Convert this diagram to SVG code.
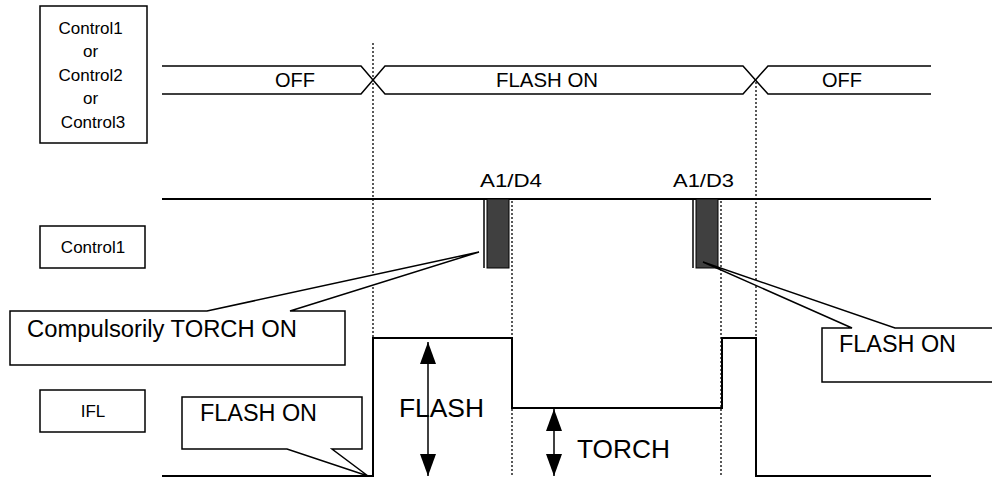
<svg xmlns="http://www.w3.org/2000/svg" width="992" height="479" viewBox="0 0 992 479">
<defs>
<style>
text{font-family:"Liberation Sans",Arial,sans-serif;fill:#000}
.box{fill:#fff;stroke:#000;stroke-width:1.5}
.bus{fill:none;stroke:#000;stroke-width:1.5}
.sig{fill:none;stroke:#000;stroke-width:2}
.dot{fill:none;stroke:#000;stroke-width:1.3;stroke-dasharray:2,2}
.pulse{fill:#404040;stroke:#000;stroke-width:1}
.arr{stroke:#000;stroke-width:1.5}
</style>
<marker id="ah" viewBox="0 0 22 16" refX="22" refY="8" markerWidth="22" markerHeight="16" markerUnits="userSpaceOnUse" orient="auto-start-reverse">
<path d="M0,0 L22,8 L0,16 Z" fill="#000"/>
</marker>
</defs>
<rect width="992" height="479" fill="#fff"/>

<g id="connectors">
<line class="dot" x1="373" y1="43" x2="373" y2="338"/>
<line class="dot" x1="756" y1="82" x2="756" y2="338"/>
<line class="dot" x1="512" y1="201" x2="512" y2="476"/>
<line class="dot" x1="721" y1="201" x2="721" y2="476"/>
<path class="bus" d="M162,66 H361 L385,94 H743 L768,66 H931"/>
<path class="bus" d="M162,94 H361 L385,66 H743 L768,94 H931"/>
<line class="sig" x1="162" y1="199" x2="931" y2="199"/>
<path class="sig" d="M162,476 H373 V338 H512 V408 H722 V338 H756 V476 H931"/>
<line class="arr" x1="428" y1="342" x2="428" y2="476" marker-start="url(#ah)" marker-end="url(#ah)"/>
<line class="arr" x1="554" y1="409" x2="554" y2="476" marker-start="url(#ah)" marker-end="url(#ah)"/>
</g>

<g id="bus-labels">
<text x="295" y="87" font-size="20" text-anchor="middle">OFF</text>
<text x="547" y="87" font-size="20" text-anchor="middle" textLength="102" lengthAdjust="spacingAndGlyphs">FLASH ON</text>
<text x="842" y="87" font-size="20" text-anchor="middle">OFF</text>
</g>

<g id="label-ctrl123">
<rect class="box" x="40" y="6" width="107" height="137"/>
<text font-size="17" text-anchor="middle">
<tspan x="93" y="34">Control1</tspan>
<tspan x="93" y="57">or</tspan>
<tspan x="93" y="81">Control2</tspan>
<tspan x="93" y="104">or</tspan>
<tspan x="93" y="128">Control3</tspan>
</text>
</g>

<g id="label-ctrl1">
<rect class="box" x="40" y="226" width="105" height="42"/>
<text x="93" y="253" font-size="17" text-anchor="middle">Control1</text>
</g>

<g id="label-ifl">
<rect class="box" x="40" y="390" width="105" height="42"/>
<text x="93" y="417" font-size="17" text-anchor="middle">IFL</text>
</g>

<g id="pulse-a1d4">
<line x1="484" y1="199" x2="484" y2="268" stroke="#000" stroke-width="1.5"/>
<rect class="pulse" x="487" y="199" width="22" height="69"/>
<text x="480" y="187" font-size="18" textLength="62" lengthAdjust="spacingAndGlyphs">A1/D4</text>
</g>

<g id="pulse-a1d3">
<line x1="693" y1="199" x2="693" y2="268" stroke="#000" stroke-width="1.5"/>
<rect class="pulse" x="696" y="199" width="22" height="69"/>
<text x="673" y="187" font-size="18" textLength="61" lengthAdjust="spacingAndGlyphs">A1/D3</text>
</g>

<g id="callout-torch">
<path class="box" d="M10,311 H207 L479,252 L290,311 H345 V365 H10 Z"/>
<text x="27" y="337" font-size="23" textLength="270" lengthAdjust="spacingAndGlyphs">Compulsorily TORCH ON</text>
</g>

<g id="callout-flash-right">
<path class="box" d="M822,328 H852 L703,262 L895,328 H1000 V382 H822 Z"/>
<text x="839" y="352" font-size="23" textLength="117" lengthAdjust="spacingAndGlyphs">FLASH ON</text>
</g>

<g id="callout-flash-left">
<path class="box" d="M182,397 H362 V449 H332 L368,476 L287,449 H182 Z"/>
<text x="200" y="421" font-size="23" textLength="117" lengthAdjust="spacingAndGlyphs">FLASH ON</text>
</g>

<g id="level-labels">
<text x="399" y="417" font-size="26" textLength="85" lengthAdjust="spacingAndGlyphs">FLASH</text>
<text x="577" y="458" font-size="26" textLength="93" lengthAdjust="spacingAndGlyphs">TORCH</text>
</g>
</svg>
